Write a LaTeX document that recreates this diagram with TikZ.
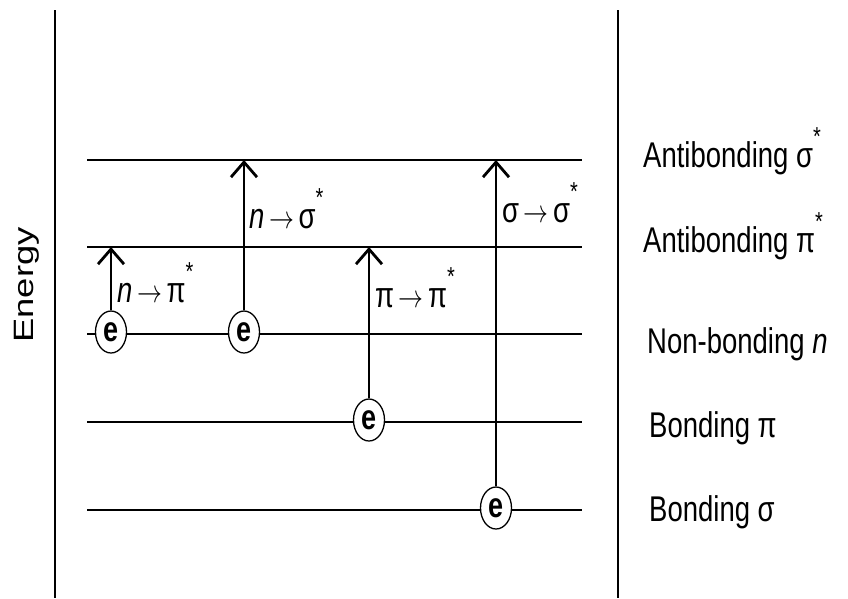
\documentclass[tikz,border=0pt]{standalone}
\usepackage{fontspec}
\setmainfont{Liberation Sans}
\usetikzlibrary{arrows.meta,shapes.geometric}
\newcommand\vstretch[1]{\scalebox{1}[1.3]{#1}}
\newcommand\sstar{\raisebox{0.6em}{\fontsize{20}{20}\selectfont *}}
\newcommand\tarrow{\,$\rightarrow$\,}
\begin{document}
\begin{tikzpicture}[x=1pt,y=-1pt,
  levelline/.style={line width=2.6pt},
  frameline/.style={line width=1.8pt},
  elec/.style={ellipse, draw, line width=1.3pt, fill=white, minimum width=31pt,
    minimum height=42pt, inner sep=0pt, font=\fontsize{27}{27}\selectfont\bfseries},
  arr/.style={line width=2.8pt, -{Straight Barb[length=15pt,width=26pt]}},
  lab/.style={font=\fontsize{27.5}{30}\selectfont, inner sep=0pt, anchor=base west},
]
\useasboundingbox (0,0) rectangle (848,598);
% frame lines
\draw[frameline] (55,10) -- (55,598);
\draw[frameline] (618,10) -- (618,598);
% energy levels
\coordinate (sigstarL) at (87,160); \coordinate (sigstarR) at (582,160);
\coordinate (pistarL) at (87,247);  \coordinate (pistarR) at (582,247);
\coordinate (nL) at (87,334);       \coordinate (nR) at (582,334);
\coordinate (piL) at (87,422);      \coordinate (piR) at (582,422);
\coordinate (sigL) at (87,510);     \coordinate (sigR) at (582,510);
\draw[levelline] (sigstarL) -- (sigstarR);
\draw[levelline] (pistarL) -- (pistarR);
\draw[levelline] (nL) -- (nR);
\draw[levelline] (piL) -- (piR);
\draw[levelline] (sigL) -- (sigR);
% electrons
\node[elec] (e1) at (111,332) {\vstretch{e}};
\node[elec] (e2) at (244,332) {\vstretch{e}};
\node[elec] (e3) at (369,420) {\vstretch{e}};
\node[elec] (e4) at (496,508) {\vstretch{e}};
% transitions
\draw[arr] (e1.north) -- (e1.north |- pistarL);
\draw[arr] (e2.north) -- (e2.north |- sigstarL);
\draw[arr] (e3.north) -- (e3.north |- pistarL);
\draw[arr] (e4.north) -- (e4.north |- sigstarL);
% transition labels
\node[lab] (t1) at (117,302) {\vstretch{\textit{n}\tarrow π\sstar}};
\node[lab] (t2) at (249,228) {\vstretch{\textit{n}\tarrow σ\sstar}};
\node[lab] (t3) at (375,307) {\vstretch{π\tarrow π\sstar}};
\node[lab] (t4) at (502,222) {\vstretch{σ\tarrow σ\sstar}};
% level labels
\node[lab] (l1) at (643,167) {\vstretch{Antibonding σ\sstar}};
\node[lab] (l2) at (643,252) {\vstretch{Antibonding π\sstar}};
\node[lab] (l3) at (647,353) {\vstretch{Non-bonding \textit{n}}};
\node[lab] (l4) at (649,437) {\vstretch{Bonding π}};
\node[lab] (l5) at (649,521) {\vstretch{Bonding σ}};
% axis label
\node[rotate=90, anchor=base, inner sep=0pt, font=\fontsize{28}{30}\selectfont] (energy) at (33,285) {\scalebox{1.3}[1]{Energy}};
\end{tikzpicture}
\end{document}
